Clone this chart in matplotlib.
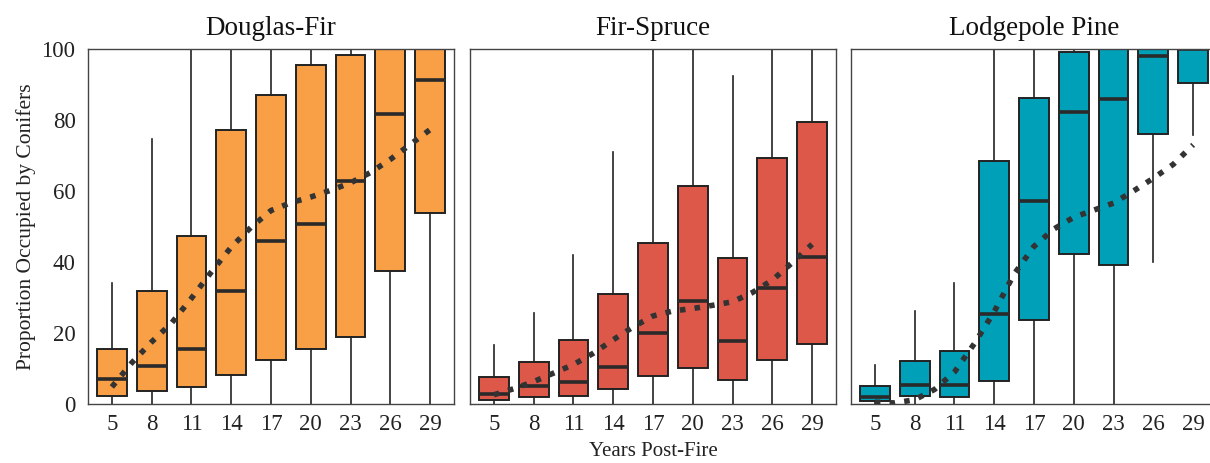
import matplotlib
matplotlib.use("Agg")
import matplotlib.pyplot as plt

plt.rcParams['font.family'] = ['Liberation Serif', 'DejaVu Serif']

years = [5, 8, 11, 14, 17, 20, 23, 26, 29]
titles = ["Douglas-Fir", "Fir-Spruce", "Lodgepole Pine"]
colors = ["#F9A046", "#DE584A", "#00A0B9"]

# box stats per panel: whisker low, Q1, median, Q3, whisker high
df_lo = [0, 0, 0, 0, 0, 0, 0, 0, 0]
df_q1 = [2.3, 3.6, 4.8, 8.3, 12.5, 15.5, 18.8, 37.5, 53.8]
df_med = [7.0, 10.7, 15.5, 31.9, 46.0, 50.7, 62.9, 81.7, 91.4]
df_q3 = [15.5, 31.9, 47.3, 77.1, 87.0, 95.5, 98.2, 100, 100]
df_hi = [34.1, 74.7, 100, 100, 100, 100, 100, 100, 100]

fs_lo = [0, 0, 0, 0, 0, 0, 0, 0, 0]
fs_q1 = [1.2, 2.0, 2.3, 4.2, 7.8, 10.1, 6.9, 12.5, 16.9]
fs_med = [2.8, 5.0, 6.1, 10.3, 20.0, 29.1, 17.8, 32.7, 41.4]
fs_q3 = [7.5, 11.8, 18.1, 31.1, 45.4, 61.3, 41.1, 69.3, 79.3]
fs_hi = [16.7, 25.6, 41.9, 71.0, 100, 100, 92.3, 100, 100]

lp_lo = [0, 0, 0, 0, 0, 0, 0, 40.0, 75.9]
lp_q1 = [0.9, 2.2, 1.9, 6.6, 23.8, 42.3, 39.1, 76.1, 90.4]
lp_med = [2.0, 5.4, 5.3, 25.4, 57.1, 82.3, 85.9, 97.9, 100]
lp_q3 = [5.0, 12.0, 14.8, 68.5, 86.2, 99.1, 100, 100, 100]
lp_hi = [11.1, 26.3, 34.1, 100, 100, 100, 100, 100, 100]

# smoothed trend read at half-step positions (0 = year 5, 8 = year 29)
trend_pos = [0, 0.5, 1, 1.5, 2, 2.5, 3, 3.5, 4, 4.5, 5, 5.5, 6, 6.5, 7, 7.5, 8]
df_trend = [4.8, 11.6, 17.5, 22.8, 29.8, 37.2, 44.2, 49.8, 54.5, 56.7,
            58.3, 60.2, 62.3, 65.2, 68.9, 73.1, 77.3]
fs_trend = [2.6, 4.3, 6.3, 8.7, 11.1, 14.3, 18.1, 21.7, 24.8, 26.2,
            26.9, 27.8, 28.8, 31.4, 34.9, 39.8, 45.0]
lp_trend = [0.5, 0.3, 1.2, 4.1, 9.0, 17.0, 26.0, 36.6, 44.4, 49.3,
            52.6, 54.6, 56.6, 60.0, 63.6, 67.5, 73.0]

panels = [
    (df_lo, df_q1, df_med, df_q3, df_hi, df_trend),
    (fs_lo, fs_q1, fs_med, fs_q3, fs_hi, fs_trend),
    (lp_lo, lp_q1, lp_med, lp_q3, lp_hi, lp_trend),
]

fig = plt.figure(figsize=(12.10, 4.63), dpi=100)
lefts = [88, 470, 851]
axes = []
for k, (lo, q1, med, q3, hi, trend) in enumerate(panels):
    ax = fig.add_axes([lefts[k] / 1210, 59 / 463, 366 / 1210, 355 / 463])
    axes.append(ax)
    stats = []
    for i in range(len(years)):
        stats.append({"whislo": lo[i], "q1": q1[i], "med": med[i],
                      "q3": q3[i], "whishi": hi[i]})
    ax.bxp(stats, positions=range(len(years)), widths=0.75,
           showcaps=False, showfliers=False, patch_artist=True,
           boxprops=dict(facecolor=colors[k], edgecolor="#222222", linewidth=1.4),
           medianprops=dict(color="#2a2a2a", linewidth=2.6),
           whiskerprops=dict(color="#222222", linewidth=1.2))
    ax.plot(trend_pos, trend, linestyle=":", color="#333333", linewidth=4,
            zorder=5)
    ax.set_xlim(-0.6, 8.6)
    ax.set_ylim(0, 100)
    ax.set_xticks(range(len(years)))
    ax.set_xticklabels(years)
    ax.set_yticks([0, 20, 40, 60, 80, 100])
    ax.tick_params(length=0, labelsize=16.5, colors="#222222")
    ax.tick_params(axis="x", pad=7)
    ax.tick_params(axis="y", pad=9)
    if k > 0:
        ax.set_yticklabels([])
    for s in ax.spines.values():
        s.set_color("#444444")
        s.set_linewidth(1.0)
    ax.set_title(titles[k], fontsize=19.5, pad=10, color="#111111")

axes[0].set_ylabel("Proportion Occupied by Conifers", fontsize=15.5, color="#222222")
axes[1].set_xlabel("Years Post-Fire", fontsize=15, color="#222222", labelpad=5)

fig.savefig("out.png", dpi=100)
